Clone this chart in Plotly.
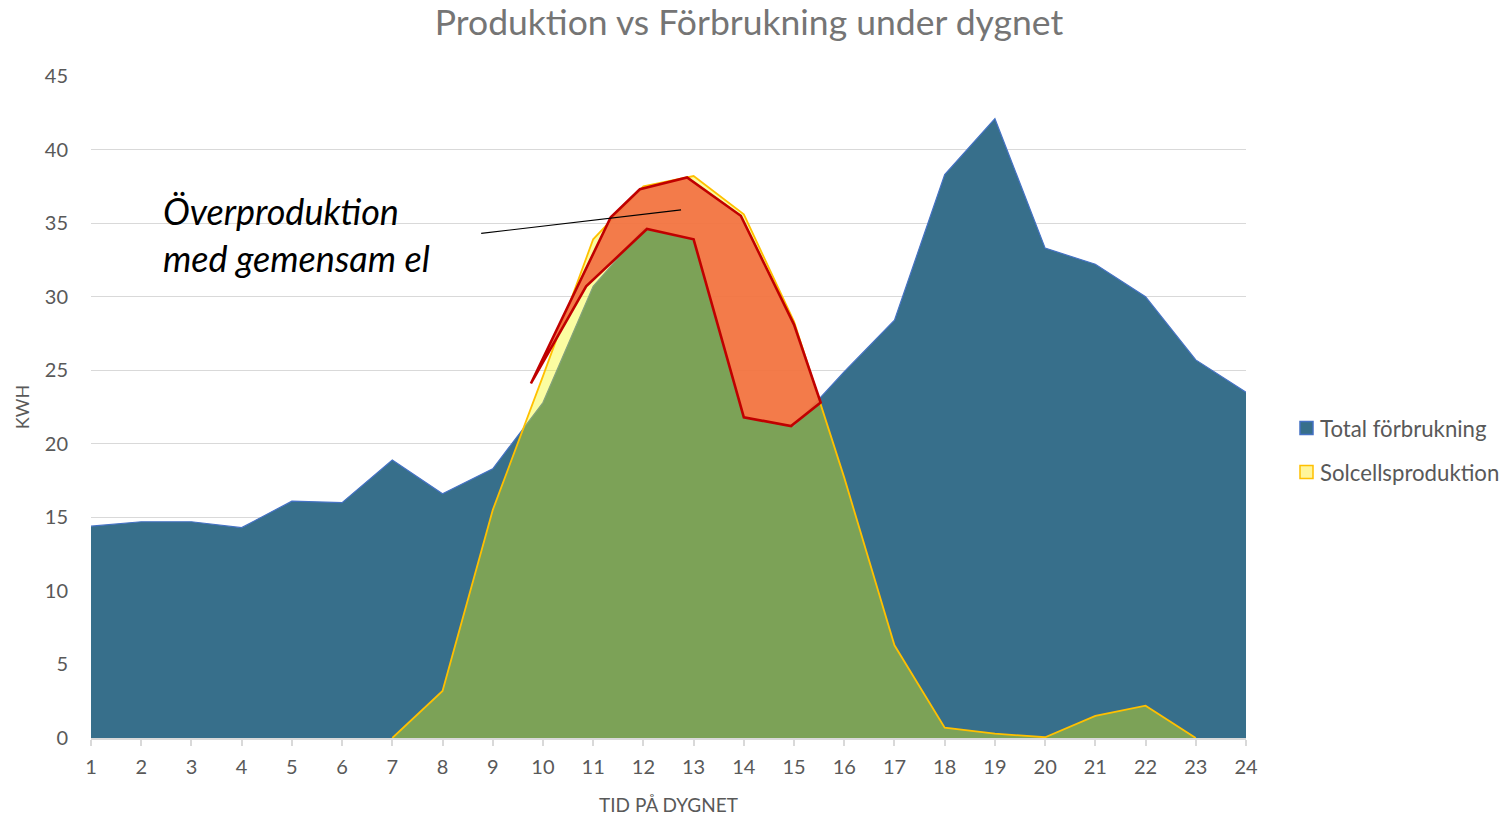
import plotly.graph_objects as go

hours = list(range(1, 25))
total_forbrukning = [14.4, 14.7, 14.7, 14.3, 16.1, 16.0, 18.9, 16.6, 18.3, 22.8, 30.7, 34.6,
                     33.9, 21.8, 21.2, 24.9, 28.4, 38.3, 42.1, 33.3, 32.2, 30.0, 25.7, 23.5]
solcellsproduktion = [None, None, None, None, None, None, 0.0, 3.2, 15.5, 24.6, 33.9, 37.5,
                      38.2, 35.6, 28.3, 17.7, 6.3, 0.7, 0.3, 0.05, 1.5, 2.2, 0.0, None]
series_names = ["Total förbrukning", "Solcellsproduktion"]

# Outline of the over-production region (hour, kWh)
over_x = [9.76, 11.35, 11.93, 12.87, 13.94, 15.0, 15.53, 14.94, 14.0, 13.0, 12.07, 10.86, 9.76]
over_y = [24.1, 35.4, 37.3, 38.1, 35.5, 28.1, 22.8, 21.2, 21.8, 33.9, 34.6, 30.7, 24.1]

# Pointer line for the label (hour, kWh)
pointer_x = [8.77, 12.75]
pointer_y = [34.3, 35.9]

FONT = "Lato, Carlito, Calibri, sans-serif"
GRAY = "#595959"
BLUE_FILL = "#376F8B"
BLUE_LINE = "#4472C4"
YELLOW_FILL = "rgba(245,250,0,0.37)"
YELLOW_LINE = "#FFC000"

W, H = 1501, 817
PLOT_L, PLOT_R, PLOT_T, PLOT_B = 91, 1246, 76, 738  # plot area in window pixels
pw = PLOT_R - PLOT_L
ph = PLOT_B - PLOT_T


def px(x):
    return (x - PLOT_L) / pw


def py(y):
    return (PLOT_B - y) / ph


fig = go.Figure()
fig.add_trace(go.Scatter(
    x=hours, y=total_forbrukning, name=series_names[0], mode="lines",
    fill="tozeroy", fillcolor=BLUE_FILL, line=dict(color=BLUE_LINE, width=1.2),
    showlegend=False))
fig.add_trace(go.Scatter(
    x=hours, y=solcellsproduktion, name=series_names[1], mode="lines",
    fill="tozeroy", fillcolor=YELLOW_FILL, line=dict(color=YELLOW_LINE, width=1.8),
    showlegend=False))
fig.add_trace(go.Scatter(
    x=over_x, y=over_y, mode="lines", fill="toself", fillcolor="rgba(242,112,66,0.92)",
    line=dict(color="#C00000", width=2.6), showlegend=False, hoverinfo="skip"))

fig.add_shape(type="line", x0=pointer_x[0], y0=pointer_y[0], x1=pointer_x[1], y1=pointer_y[1],
              xref="x", yref="y", line=dict(color="black", width=1.2))

fig.add_annotation(text="<i>Överproduktion<br>med gemensam el</i>", xref="paper", yref="paper",
                   x=px(161), y=py(234), xanchor="left", yanchor="middle",
                   showarrow=False, align="left",
                   font=dict(family=FONT, size=36, color="black"))

# Legend drawn as square swatches with labels (as in the original)
legend_rows = [428, 472]
legend_fill = [BLUE_FILL, "#FFF59A"]
legend_edge = [BLUE_LINE, YELLOW_LINE]
for name, yc, fc, ec in zip(series_names, legend_rows, legend_fill, legend_edge):
    fig.add_shape(type="rect", xref="paper", yref="paper",
                  x0=px(1300), x1=px(1313), y0=py(yc + 6.5), y1=py(yc - 6.5),
                  fillcolor=fc, line=dict(color=ec, width=1.5))
    fig.add_annotation(text=name, xref="paper", yref="paper", x=px(1318), y=py(yc),
                       xanchor="left", yanchor="middle", showarrow=False,
                       font=dict(family=FONT, size=22.2, color=GRAY))

fig.update_layout(
    width=W, height=H,
    margin=dict(l=PLOT_L, r=W - PLOT_R, t=PLOT_T, b=H - PLOT_B),
    paper_bgcolor="white", plot_bgcolor="white",
    title=dict(text="Produktion vs Förbrukning under dygnet", x=749 / W, xref="container",
               xanchor="center", y=1 - 23 / H, yanchor="middle",
               font=dict(family=FONT, size=35.5, color="#757575")),
    font=dict(family=FONT, color=GRAY),
    showlegend=False,
)
fig.update_xaxes(range=[1, 24], tickvals=hours, showgrid=False, zeroline=False,
                 showline=True, linecolor="#d9d9d9", linewidth=1.5,
                 ticks="outside", tickcolor="#d9d9d9", ticklen=6, tickwidth=1.5,
                 ticklabelstandoff=4, automargin=False,
                 tickfont=dict(family=FONT, size=20, color=GRAY), layer="above traces",
                 title=dict(text="TID PÅ DYGNET", font=dict(family=FONT, size=19, color=GRAY),
                            standoff=22))
fig.update_yaxes(range=[0, 45], dtick=5, showgrid=True, gridcolor="#d9d9d9", gridwidth=1.3,
                 zeroline=False, showline=False, ticks="", automargin=False,
                 ticklabelstandoff=22,
                 tickfont=dict(family=FONT, size=20, color=GRAY),
                 title=dict(text="KWH", font=dict(family=FONT, size=18, color=GRAY), standoff=10))

fig.write_html("out.html", config={"displayModeBar": False},
               post_script="document.body.style.margin='0';")
